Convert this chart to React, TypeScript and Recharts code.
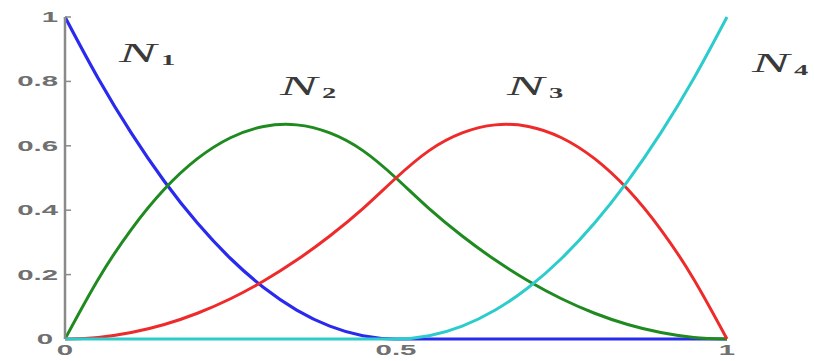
import React from "react";
import { LineChart, Line, XAxis, YAxis } from "recharts";

const tValues = [0, 0.05, 0.1, 0.15, 0.2, 0.25, 0.3, 0.35, 0.4, 0.45, 0.5, 0.55, 0.6, 0.65, 0.7, 0.75, 0.8, 0.85, 0.9, 0.95, 1];
const n1Values = [1, 0.81, 0.64, 0.49, 0.36, 0.25, 0.16, 0.09, 0.04, 0.01, 0, 0, 0, 0, 0, 0, 0, 0, 0, 0, 0];
const n2Values = [0, 0.185, 0.34, 0.465, 0.56, 0.625, 0.66, 0.665, 0.64, 0.585, 0.5, 0.405, 0.32, 0.245, 0.18, 0.125, 0.08, 0.045, 0.02, 0.005, 0];
const n3Values = [0, 0.005, 0.02, 0.045, 0.08, 0.125, 0.18, 0.245, 0.32, 0.405, 0.5, 0.585, 0.64, 0.665, 0.66, 0.625, 0.56, 0.465, 0.34, 0.185, 0];
const n4Values = [0, 0, 0, 0, 0, 0, 0, 0, 0, 0, 0, 0.01, 0.04, 0.09, 0.16, 0.25, 0.36, 0.49, 0.64, 0.81, 1];
const xTicks = [0, 0.5, 1];
const yTicks = [0, 0.2, 0.4, 0.6, 0.8, 1];
const seriesLabels = ["1", "2", "3", "4"];

const data = tValues.map((t, i) => ({
  t,
  n1: n1Values[i],
  n2: n2Values[i],
  n3: n3Values[i],
  n4: n4Values[i],
}));

const tickFont = {
  fontFamily: "'Liberation Sans', Arial, sans-serif",
  fontSize: 14,
  fontWeight: 700,
  fill: "#707070",
};

const YTick = (props: any) => {
  const { x, y, payload } = props;
  const v = payload.value;
  const isZero = v === 0;
  return (
    <g>
      {!isZero && <line x1={x} x2={x + 6} y1={y} y2={y} stroke="#8a8a8a" strokeWidth={1.5} />}
      <text
        transform={`translate(${isZero ? x - 12 : x - 7},${y + 5}) scale(2.1,1)`}
        textAnchor="end"
        {...tickFont}
      >
        {String(v)}
      </text>
    </g>
  );
};

const XTick = (props: any) => {
  const { x, y, payload } = props;
  return (
    <text
      transform={`translate(${x},${y + 16}) scale(2.1,1)`}
      textAnchor="middle"
      {...tickFont}
    >
      {String(payload.value)}
    </text>
  );
};

const labelPos = [
  { x: 119, y: 62 },
  { x: 280, y: 95 },
  { x: 507, y: 95 },
  { x: 752, y: 72 },
];

export default function App() {
  return (
    <div style={{ position: "absolute", left: 0, top: 0, width: 814, height: 361, background: "#fff" }}>
      <LineChart
        width={814}
        height={361}
        data={data}
        margin={{ top: 17, right: 87, bottom: 0, left: 0 }}
      >
        <XAxis
          dataKey="t"
          type="number"
          domain={[0, 1]}
          ticks={xTicks}
          axisLine={false}
          tickLine={false}
          tickSize={0}
          tickMargin={0}
          height={22}
          tick={<XTick />}
        />
        <YAxis
          type="number"
          domain={[0, 1]}
          ticks={yTicks}
          width={65}
          axisLine={{ stroke: "#8a8a8a", strokeWidth: 2.5 }}
          tickLine={false}
          tickSize={0}
          tickMargin={0}
          tick={<YTick />}
        />
        <Line type="monotone" dataKey="n1" stroke="#2a2aee" strokeWidth={3.2} dot={false} isAnimationActive={false} />
        <Line type="natural" dataKey="n2" stroke="#1f8a1f" strokeWidth={3} dot={false} isAnimationActive={false} />
        <Line type="natural" dataKey="n3" stroke="#ee2a2a" strokeWidth={3} dot={false} isAnimationActive={false} />
        <Line type="monotone" dataKey="n4" stroke="#2ccccc" strokeWidth={3} dot={false} isAnimationActive={false} />
      </LineChart>
      <svg
        width={814}
        height={361}
        style={{ position: "absolute", left: 0, top: 0, pointerEvents: "none" }}
      >
        {seriesLabels.map((s, i) => (
          <g key={s} transform={`translate(${labelPos[i].x},${labelPos[i].y})`}>
            <text
              transform="scale(2,1)"
              fontFamily="'Liberation Serif', 'DejaVu Serif', serif"
              fontStyle="italic"
              fontSize={28}
              fill="#3a3a3a"
            >
              N
            </text>
            <text
              transform="translate(42,3) scale(1.9,1)"
              fontFamily="'Liberation Serif', 'DejaVu Serif', serif"
              fontSize={15}
              fontWeight={700}
              fill="#3a3a3a"
            >
              {s}
            </text>
          </g>
        ))}
      </svg>
    </div>
  );
}
